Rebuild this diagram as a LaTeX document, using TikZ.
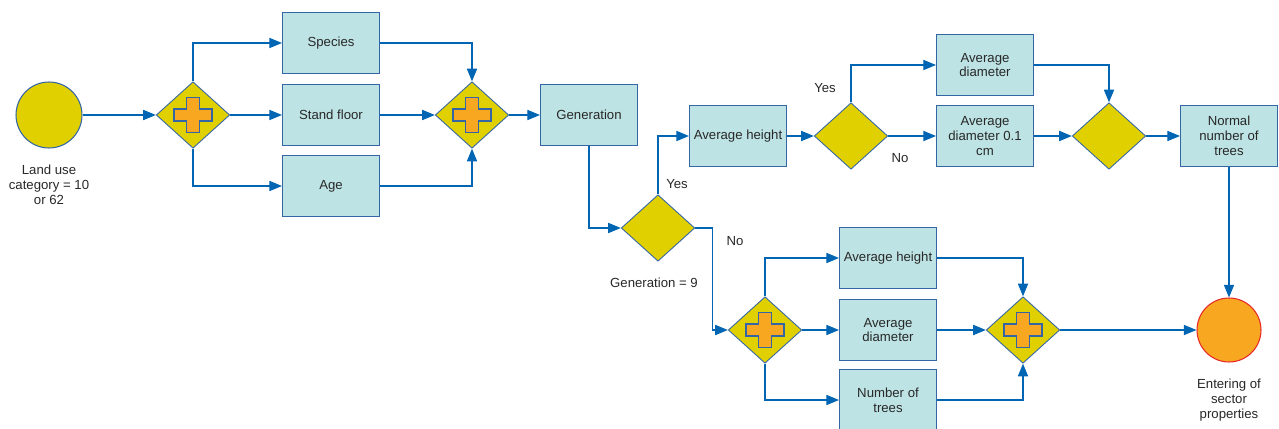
\documentclass[tikz,border=0pt]{standalone}
\usepackage{fontspec}
\setmainfont{Liberation Sans}
\usepackage{xcolor}
\usetikzlibrary{arrows.meta,shapes.geometric}

\definecolor{boxfill}{RGB}{190,227,228}
\definecolor{boxline}{RGB}{52,101,164}
\definecolor{gateyellow}{RGB}{224,208,0}
\definecolor{crossorange}{RGB}{248,167,33}
\definecolor{flowblue}{RGB}{0,102,179}
\definecolor{endred}{RGB}{232,40,40}
\definecolor{txt}{RGB}{40,40,40}

\begin{document}
\begin{tikzpicture}[x=0.02cm, y=-0.02cm, text=txt,
	font=\fontsize{7.5}{8.4}\selectfont,
	task/.style={draw=boxline, line width=0.6pt, fill=boxfill, minimum width=1.94cm, minimum height=1.22cm, align=center, inner sep=1pt},
	gate/.style={diamond, draw=boxline, line width=0.5pt, fill=gateyellow, inner sep=0pt, minimum width=1.47cm, minimum height=1.33cm},
	plusgate/.style={gate, path picture={
		\draw[boxline, line width=0.6pt, fill=crossorange, shift={(path picture bounding box.center)}]
			(-6.5,-17.5) -- (6.5,-17.5) -- (6.5,-6) -- (19,-6) -- (19,6) -- (6.5,6) -- (6.5,17.5)
			-- (-6.5,17.5) -- (-6.5,6) -- (-19,6) -- (-19,-6) -- (-6.5,-6) -- cycle;}},
	event/.style={circle, draw=boxline, line width=0.6pt, fill=gateyellow, minimum size=1.32cm, inner sep=0pt},
	endevent/.style={circle, draw=endred, line width=0.6pt, fill=crossorange, minimum size=1.28cm, inner sep=0pt},
	flow/.style={draw=flowblue, line width=0.6pt, -{Triangle[length=7.2pt, width=5.8pt]}},
	lbl/.style={align=center, inner sep=0pt}]
	\useasboundingbox (0,0) rectangle (1279,429);

	% left part
	\node[event] (start) at (49,115) {};
	\node[lbl] (startlbl) at (49,185) {Land use\\category = 10\\or 62};
	\node[plusgate] (g1) at (193,115) {};
	\node[task] (species) at (331,43) {Species};
	\node[task] (stand) at (331,115) {Stand floor};
	\node[task] (age) at (331,186) {Age};
	\node[plusgate] (g2) at (472,115) {};
	\node[task] (gen) at (589,115) {Generation};
	\node[gate] (dec1) at (658,228) {};
	\node[lbl] (declbl) at (654,283) {Generation = 9};
	\node[lbl] (yes1) at (677,184) {Yes};
	\node[lbl] (no1) at (735,241) {No};

	% upper branch
	\node[task] (avgh) at (738,136) {Average height};
	\node[gate] (dec2) at (851,136) {};
	\node[lbl] (yes2) at (825,88) {Yes};
	\node[lbl] (no2) at (900,158) {No};
	\node[task] (avgd) at (985,65) {Average\\diameter};
	\node[task] (avgdcm) at (985,136) {Average\\diameter 0.1\\cm};
	\node[gate] (g4) at (1109,136) {};
	\node[task] (normal) at (1229,136) {Normal\\number of\\trees};

	% lower branch
	\node[plusgate] (g3) at (765,330) {};
	\node[task] (avgh2) at (888,258) {Average height};
	\node[task] (avgd2) at (888,330) {Average\\diameter};
	\node[task] (ntrees) at (888,400) {Number of\\trees};
	\node[plusgate] (g5) at (1023,330) {};
	\node[endevent] (finish) at (1229,330) {};
	\node[lbl] (finishlbl) at (1229,400) {Entering of\\sector\\properties};

	% connectors
	\draw[flow] (start) -- (g1.west);
	\draw[flow] (g1.north) |- (species.west);
	\draw[flow] (g1.east) -- (stand.west);
	\draw[flow] (g1.south) |- (age.west);
	\draw[flow] (species.east) -| (g2.north);
	\draw[flow] (stand.east) -- (g2.west);
	\draw[flow] (age.east) -| (g2.south);
	\draw[flow] (g2.east) -- (gen.west);
	\draw[flow] (gen.south) |- (dec1.west);
	\draw[flow] (dec1.north) |- (avgh.west);
	\draw[flow] (dec1.east) -- ++(17,0) |- (g3.west);
	\draw[flow] (avgh.east) -- (dec2.west);
	\draw[flow] (dec2.north) |- (avgd.west);
	\draw[flow] (dec2.east) -- (avgdcm.west);
	\draw[flow] (avgd.east) -| (g4.north);
	\draw[flow] (avgdcm.east) -- (g4.west);
	\draw[flow] (g4.east) -- (normal.west);
	\draw[flow] (normal.south) -- (finish.north);
	\draw[flow] (g3.north) |- (avgh2.west);
	\draw[flow] (g3.east) -- (avgd2.west);
	\draw[flow] (g3.south) |- (ntrees.west);
	\draw[flow] (avgh2.east) -| (g5.north);
	\draw[flow] (avgd2.east) -- (g5.west);
	\draw[flow] (ntrees.east) -| (g5.south);
	\draw[flow] (g5.east) -- (finish.west);
\end{tikzpicture}
\end{document}
